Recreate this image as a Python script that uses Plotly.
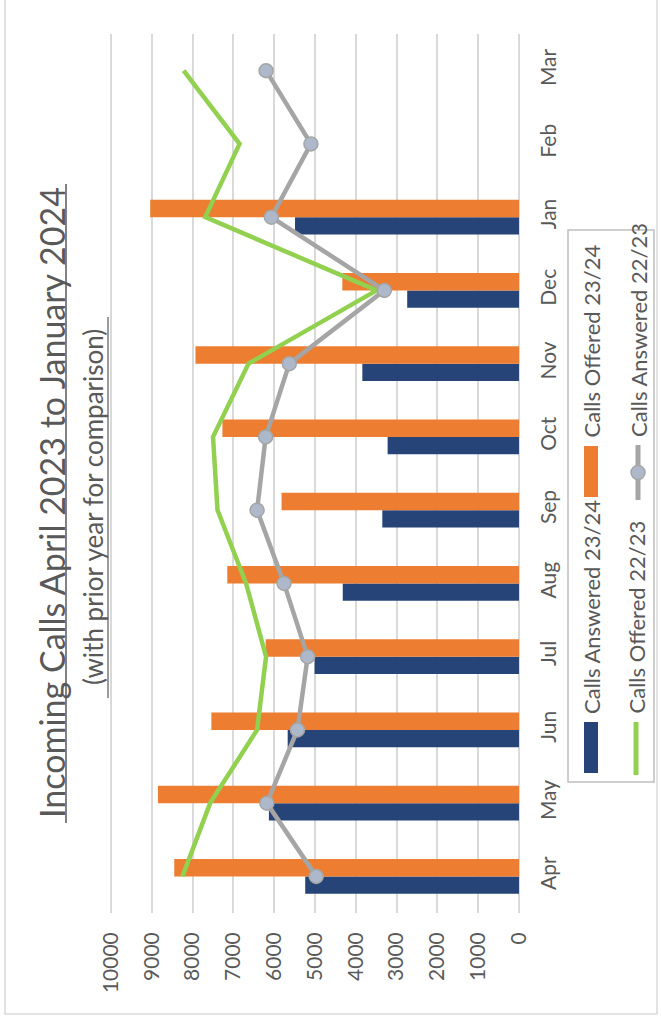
import plotly.graph_objects as go

# Monthly call volumes, April 2023 - March 2024 (bars) vs prior year (lines)
months = ["Apr", "May", "Jun", "Jul", "Aug", "Sep", "Oct", "Nov", "Dec", "Jan", "Feb", "Mar"]
answered_2324 = [5240, 6130, 5670, 5010, 4320, 3350, 3220, 3840, 2740, 5490, None, None]
offered_2324 = [8450, 8850, 7540, 6210, 7150, 5820, 7270, 7930, 4330, 9040, None, None]
offered_2223 = [8250, 7570, 6420, 6200, 6690, 7390, 7500, 6630, 3490, 7690, 6850, 8220]
answered_2223 = [4970, 6180, 5430, 5180, 5760, 6420, 6210, 5630, 3300, 6070, 5100, 6200]
value_ticks = [0, 1000, 2000, 3000, 4000, 5000, 6000, 7000, 8000, 9000, 10000]

BLUE = "#264478"
ORANGE = "#ED7D31"
GREEN = "#92D050"
GREY = "#A5A5A5"
MARKER_FILL = "#ADB9CA"
TEXT = "#595959"
FONT = "Lato"

W, H = 661, 1018
ML, MR, MT, MB = 109, 141, 34, 105
PW, PH = W - ML - MR, H - MT - MB


def px(x):
    return (x - ML) / PW


def py(y):
    return (H - MB - y) / PH


fig = go.Figure()
fig.add_trace(go.Bar(y=months, x=answered_2324, orientation="h", name="Calls Answered 23/24",
                     marker=dict(color=BLUE, line=dict(width=0))))
fig.add_trace(go.Bar(y=months, x=offered_2324, orientation="h", name="Calls Offered 23/24",
                     marker=dict(color=ORANGE, line=dict(width=0))))
fig.add_trace(go.Scatter(y=months, x=offered_2223, mode="lines", name="Calls Offered 22/23",
                         line=dict(color=GREEN, width=4.5)))
fig.add_trace(go.Scatter(y=months, x=answered_2223, mode="lines+markers", name="Calls Answered 22/23",
                         line=dict(color=GREY, width=4.5),
                         marker=dict(symbol="circle", size=14, color=MARKER_FILL,
                                     line=dict(color=GREY, width=1.5))))

annotations = [
    dict(text="Incoming Calls April 2023 to January 2024", x=px(51), y=py(503),
         xref="paper", yref="paper", textangle=-90, showarrow=False,
         xanchor="center", yanchor="middle", font=dict(family=FONT, size=34, color=TEXT)),
    dict(text="(with prior year for comparison)", x=px(93), y=py(507),
         xref="paper", yref="paper", textangle=-90, showarrow=False,
         xanchor="center", yanchor="middle", font=dict(family=FONT, size=26, color=TEXT)),
]

shapes = [
    # chart frame
    dict(type="rect", xref="paper", yref="paper", x0=px(5), x1=px(657), y0=py(1014), y1=py(-6),
         line=dict(color="#D9D9D9", width=1.5), fillcolor="rgba(0,0,0,0)", layer="below"),
    # title and subtitle underlines
    dict(type="line", xref="paper", yref="paper", x0=px(66), x1=px(66), y0=py(823), y1=py(184),
         line=dict(color=TEXT, width=1.5)),
    dict(type="line", xref="paper", yref="paper", x0=px(108), x1=px(108), y0=py(698), y1=py(317),
         line=dict(color=TEXT, width=1.2)),
    # legend frame
    dict(type="rect", xref="paper", yref="paper", x0=px(568), x1=px(654), y0=py(782), y1=py(230),
         line=dict(color="#BFBFBF", width=1.5), fillcolor="white"),
]

# legend entries: (name, column x, swatch y range, kind, colour)
legend_items = [
    ("Calls Answered 23/24", 591, 722, 773, "bar", BLUE),
    ("Calls Offered 23/24", 591, 446, 497, "bar", ORANGE),
    ("Calls Offered 22/23", 636, 722, 775, "line", GREEN),
    ("Calls Answered 22/23", 638, 445, 500, "marker", GREY),
]
for name, cx, ya, yb, kind, col in legend_items:
    if kind == "bar":
        shapes.append(dict(type="rect", xref="paper", yref="paper", x0=px(cx - 7), x1=px(cx + 7),
                           y0=py(yb), y1=py(ya), line=dict(width=0), fillcolor=col))
    else:
        shapes.append(dict(type="line", xref="paper", yref="paper", x0=px(cx), x1=px(cx),
                           y0=py(yb), y1=py(ya), line=dict(color=col, width=5)))
        if kind == "marker":
            ym = (ya + yb) / 2
            shapes.append(dict(type="circle", xref="paper", yref="paper", x0=px(cx - 7), x1=px(cx + 7),
                               y0=py(ym + 7), y1=py(ym - 7), fillcolor=MARKER_FILL,
                               line=dict(color=col, width=1.5)))
    annotations.append(dict(text=name, x=px(cx), y=py(ya - 6), xref="paper", yref="paper",
                            textangle=-90, showarrow=False, xanchor="center", yanchor="bottom",
                            font=dict(family=FONT, size=22, color=TEXT)))

fig.update_layout(
    width=W, height=H,
    margin=dict(l=ML, r=MR, t=MT, b=MB, pad=0),
    paper_bgcolor="white", plot_bgcolor="white",
    barmode="group", bargap=0.526, bargroupgap=0,
    showlegend=False,
    font=dict(family=FONT, color=TEXT),
    annotations=annotations, shapes=shapes,
    xaxis=dict(range=[10050, -25], tickvals=value_ticks, ticktext=[str(v) for v in value_ticks],
               tickangle=-90, showgrid=True, gridcolor="#D9D9D9", gridwidth=1.5,
               zeroline=False, showline=False, ticks="", ticklabelstandoff=14,
               tickfont=dict(family=FONT, size=21, color=TEXT)),
    yaxis=dict(type="category", categoryorder="array", categoryarray=months, range=[-0.5, 11.5],
               side="right", tickangle=-90, showgrid=False, zeroline=False, showline=False,
               ticks="", ticklabelstandoff=14, tickfont=dict(family=FONT, size=21, color=TEXT)),
)

fig.write_html("out.html")
